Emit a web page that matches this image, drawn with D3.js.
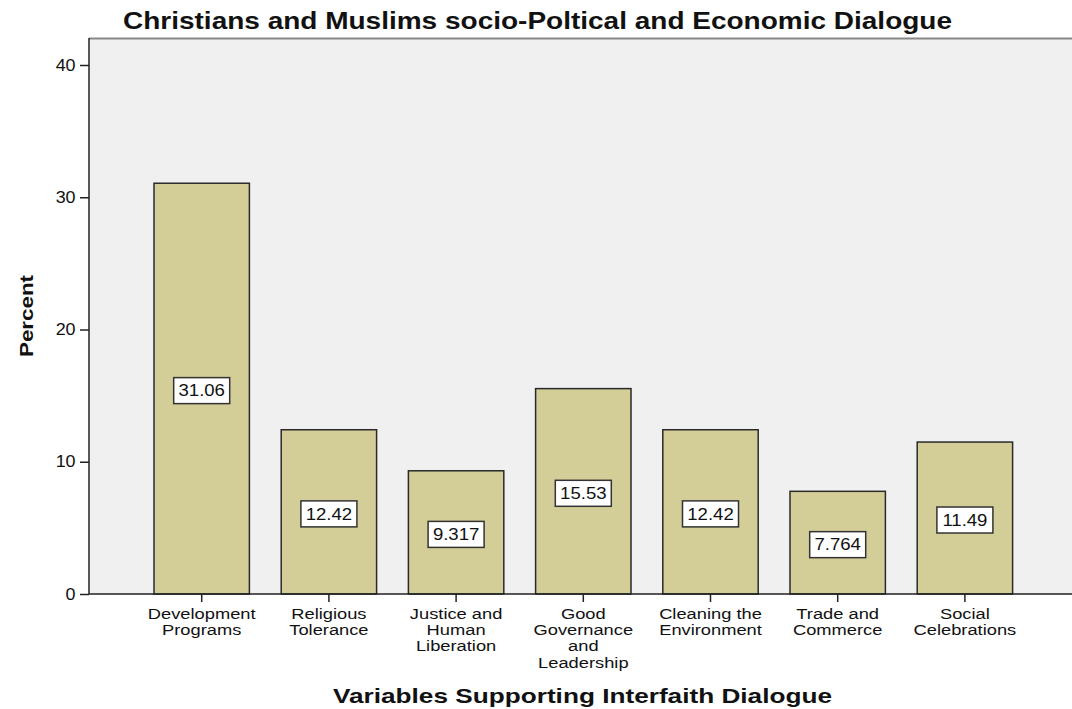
<!DOCTYPE html>
<html>
<head>
<meta charset="utf-8">
<script src="https://cdn.jsdelivr.net/npm/d3@7"></script>
<style>
  body { margin: 0; background: #fff; }
  text { font-family: Arial, "Liberation Sans", sans-serif; }
</style>
</head>
<body>
<div id="chart"></div>
<script>
const categories = [
  ["Development", "Programs"],
  ["Religious", "Tolerance"],
  ["Justice and", "Human", "Liberation"],
  ["Good", "Governance", "and", "Leadership"],
  ["Cleaning the", "Environment"],
  ["Trade and", "Commerce"],
  ["Social", "Celebrations"]
];
const values = [31.06, 12.42, 9.317, 15.53, 12.42, 7.764, 11.49];
const valueLabels = ["31.06", "12.42", "9.317", "15.53", "12.42", "7.764", "11.49"];
const yTicks = [0, 10, 20, 30, 40];

const width = 1072, height = 709;
const plot = {left: 89, top: 38, right: 1072, bottom: 594};
const font = 'Arial, "Liberation Sans", sans-serif';
const stretch = 1.16; // the original text looks a bit wide

const svg = d3.select('#chart').append('svg')
  .attr('width', width)
  .attr('height', height);

// plot background
svg.append('rect')
  .attr('x', plot.left).attr('y', plot.top)
  .attr('width', plot.right - plot.left).attr('height', plot.bottom - plot.top)
  .attr('fill', '#f0f0f0');
svg.append('line')
  .attr('x1', plot.left).attr('x2', plot.right)
  .attr('y1', plot.top + 0.5).attr('y2', plot.top + 0.5)
  .attr('stroke', '#888').attr('stroke-width', 2);

const y = d3.scaleLinear().domain([0, 40]).range([594, 65]);
const x = d3.scaleBand()
  .domain(d3.range(categories.length))
  .range([122.2, 1044.4])
  .padding(0.25);

// bars
svg.selectAll('rect.bar')
  .data(values)
  .enter().append('rect')
  .attr('class', 'bar')
  .attr('x', (d, i) => x(i))
  .attr('y', d => y(d))
  .attr('width', x.bandwidth())
  .attr('height', d => y(0) - y(d))
  .attr('fill', '#d3cd98')
  .attr('stroke', '#2a2a2a')
  .attr('stroke-width', 1.5);

// value labels
const lab = svg.selectAll('g.lab')
  .data(values)
  .enter().append('g')
  .attr('class', 'lab')
  .attr('transform', (d, i) => `translate(${x(i) + x.bandwidth() / 2}, ${(y(d) + y(0)) / 2 + 2})`);
lab.append('rect')
  .attr('x', -28).attr('y', -13)
  .attr('width', 56).attr('height', 26)
  .attr('fill', '#fff')
  .attr('stroke', '#333')
  .attr('stroke-width', 1.5);
lab.append('text')
  .attr('text-anchor', 'middle')
  .attr('dy', '0.36em')
  .attr('font-size', '16px')
  .attr('transform', `scale(${stretch},1)`)
  .attr('fill', '#111')
  .text((d, i) => valueLabels[i]);

// y axis
const yAxis = svg.append('g')
  .attr('transform', `translate(${plot.left},0)`)
  .call(d3.axisLeft(y).tickValues(yTicks).tickSize(9).tickPadding(3));
yAxis.select('.domain').attr('d', `M0,${plot.top}V${plot.bottom}`).attr('stroke', '#222').attr('stroke-width', 1.5);
yAxis.selectAll('.tick line').attr('stroke', '#222').attr('stroke-width', 1.5);
yAxis.selectAll('.tick text').attr('font-size', '16px').attr('fill', '#111')
  .attr('transform', 'scale(1.12,1)')
  .style('font-family', font);

// x axis
const xAxis = svg.append('g')
  .attr('transform', `translate(0,${plot.bottom})`)
  .call(d3.axisBottom(x).tickSize(8).tickFormat(''));
xAxis.select('.domain').attr('d', `M${plot.left},0H${plot.right}`).attr('stroke', '#222').attr('stroke-width', 1.5);
xAxis.selectAll('.tick line').attr('stroke', '#222').attr('stroke-width', 1.5);
xAxis.selectAll('.tick').each(function(d) {
  const t = d3.select(this).append('text')
    .attr('text-anchor', 'middle')
    .attr('font-size', '15px')
    .attr('transform', 'scale(1.22,1)')
    .attr('fill', '#111')
    .style('font-family', font);
  categories[d].forEach((line, k) => {
    t.append('tspan').attr('x', 0).attr('y', 25 + k * 16.2).text(line);
  });
});

// titles
svg.append('text')
  .attr('x', 123).attr('y', 29)
  .attr('font-size', '23px')
  .attr('font-weight', 'bold')
  .attr('fill', '#111')
  .attr('textLength', 829)
  .attr('lengthAdjust', 'spacingAndGlyphs')
  .text('Christians and Muslims socio-Poltical and Economic Dialogue');

svg.append('text')
  .attr('transform', 'translate(33,357) rotate(-90)')
  .attr('font-size', '19px')
  .attr('font-weight', 'bold')
  .attr('fill', '#111')
  .attr('textLength', 82)
  .attr('lengthAdjust', 'spacingAndGlyphs')
  .text('Percent');

svg.append('text')
  .attr('x', 333).attr('y', 703)
  .attr('font-size', '20.5px')
  .attr('font-weight', 'bold')
  .attr('fill', '#111')
  .attr('textLength', 499)
  .attr('lengthAdjust', 'spacingAndGlyphs')
  .text('Variables Supporting Interfaith Dialogue');
</script>
</body>
</html>
